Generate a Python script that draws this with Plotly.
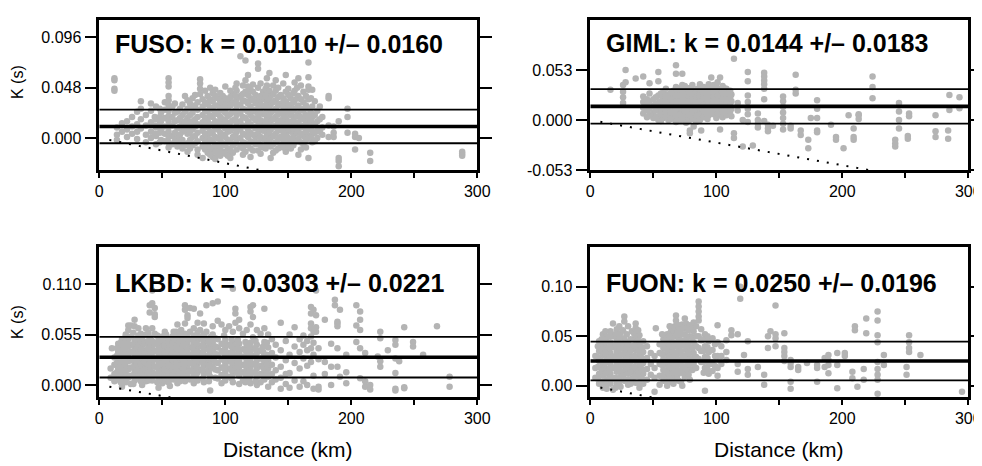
import plotly.graph_objects as go

# ---------------- data ----------------
stations = ["FUSO", "GIML", "LKBD", "FUON"]
k_mean = [0.0110, 0.0144, 0.0303, 0.0250]
k_std = [0.0160, 0.0183, 0.0221, 0.0196]

y_ranges = [[-0.0305, 0.1125], [-0.053, 0.106], [-0.0134, 0.1500], [-0.0117, 0.1398]]
y_tickvals = [[0, 0.048, 0.096], [-0.053, 0, 0.053], [0, 0.055, 0.110], [0, 0.05, 0.10]]
y_ticktext = [["0.000", "0.048", "0.096"], ["-0.053", "0.000", "0.053"],
              ["0.000", "0.055", "0.110"], ["0.00", "0.05", "0.10"]]
x_tickvals = [0, 100, 200, 300]
x_ticktext = ["0", "100", "200", "300"]
x_minorvals = [50, 150, 250]

dotted_dist = [8, 300]
dotted_k = [-0.0019, -0.072]

# (distance km, [kappa values])
fuso_cols = [
    (12, [0.057, 0.055, 0.047, 0.045]), (14, [0.010, 0.003, -0.002]), (18, [0.014, 0.006]),
    (22, [0.016, 0.008, 0.001]), (26, [0.020, 0.011, 0.004]), (30, [0.025, 0.013, 0.006, -0.001]),
    (33, [0.035, 0.028, 0.018, 0.009]), (37, [0.022, 0.012, 0.003, -0.004]),
    (41, [0.033, 0.026, 0.015, 0.006, 0.0]), (45, [0.030, 0.018, 0.010, 0.002, -0.006]),
    (49, [0.024, 0.016, 0.008, -0.002]), (52, [0.034, 0.027, 0.019, 0.011, 0.004, -0.003]),
    (55, [0.057, 0.053, 0.049, 0.040, 0.036, 0.031, 0.026, 0.021, 0.016, 0.011, 0.006, 0.001, -0.004, -0.009]),
    (58, [0.030, 0.020, 0.012, 0.002, -0.006]), (62, [0.025, 0.017, 0.009, 0.000, -0.008]),
    (66, [0.032, 0.022, 0.014, 0.006, -0.002, -0.010]),
    (70, [0.036, 0.028, 0.019, 0.011, 0.004, -0.005, -0.013]),
    (74, [0.038, 0.030, 0.024, 0.016, 0.008, 0.001, -0.007]),
    (78, [0.034, 0.027, 0.020, 0.013, 0.005, -0.003, -0.011, -0.016]),
    (80, [0.056, 0.052, 0.047, 0.042]),
    (82, [0.037, 0.030, 0.022, 0.015, 0.007, 0.0, -0.008, -0.019]),
    (86, [0.040, 0.032, 0.025, 0.017, 0.010, 0.002, -0.006, -0.014]), (88, [0.048]),
    (90, [0.043, 0.035, 0.027, 0.020, 0.012, 0.004, -0.003, -0.011, -0.018]),
    (94, [0.038, 0.031, 0.023, 0.015, 0.008, 0.0, -0.008, -0.015]),
    (98, [0.040, 0.033, 0.026, 0.018, 0.011, 0.003, -0.005, -0.013]),
    (102, [0.036, 0.029, 0.021, 0.014, 0.006, -0.002, -0.010, -0.017]),
    (106, [0.042, 0.034, 0.025, 0.017, 0.009, 0.001, -0.007, -0.014]),
    (109, [0.052, 0.045, 0.037, 0.030, 0.022, 0.014, 0.006, -0.002, -0.011]),
    (112, [0.078, 0.040, 0.032, 0.024, 0.016, 0.008, 0.0, -0.008]),
    (116, [0.074, 0.055, 0.044, 0.035, 0.027, 0.019, 0.011, 0.003, -0.005, -0.013]),
    (120, [0.046, 0.038, 0.030, 0.022, 0.013, 0.005, -0.003, -0.010, -0.018]), (122, [0.051]),
    (124, [0.041, 0.033, 0.025, 0.017, 0.009, 0.001, -0.006]),
    (126, [0.071, 0.066, 0.048, 0.036, 0.028, 0.020, 0.012, 0.004, -0.004, -0.012]),
    (130, [0.044, 0.037, 0.030, 0.023, 0.015, 0.007, -0.001, -0.009]),
    (133, [0.057, 0.050, 0.043, 0.035, 0.027, 0.019, 0.011, 0.003, -0.005]),
    (136, [0.040, 0.032, 0.024, 0.016, 0.008, 0.0, -0.008, -0.019]),
    (140, [0.055, 0.045, 0.036, 0.028, 0.020, 0.012, 0.004, -0.004, -0.012]),
    (144, [0.041, 0.033, 0.025, 0.017, 0.009, 0.001, -0.007]),
    (148, [0.060, 0.044, 0.035, 0.027, 0.019, 0.011, 0.003, -0.005, -0.013]),
    (152, [0.038, 0.030, 0.022, 0.014, 0.006, -0.002, -0.010]),
    (155, [0.053, 0.045, 0.036, 0.028, 0.020, 0.012, 0.004, -0.004]),
    (158, [0.057, 0.040, 0.031, 0.023, 0.015, 0.007, -0.001, -0.016]),
    (162, [0.044, 0.034, 0.026, 0.018, 0.010, 0.002, -0.006]),
    (166, [0.072, 0.058, 0.049, 0.046, 0.037, 0.028, 0.019, 0.010, 0.002, -0.019]),
    (169, [0.046, 0.030, 0.020, 0.012, 0.004, -0.004]), (173, [0.026, 0.016, 0.008, 0.0]),
    (177, [0.020, 0.010, 0.003]), (182, [0.040, 0.038, 0.012, 0.001]), (186, [0.011, 0.005, 0.001]),
    (190, [0.016, -0.019, -0.022, -0.027]), (197, [0.028, 0.020, 0.005]),
    (203, [0.004, 0.001, -0.011]), (206, [0.000]), (215, [-0.014, -0.022]),
    (288, [-0.013, -0.015, -0.017]),
    # in-between points of the dense core
    (44, [0.020, 0.012, 0.004]), (48, [0.028, 0.020, 0.013, 0.005, -0.004]),
    (60, [0.033, 0.024, 0.016, 0.005, -0.003]), (64, [0.028, 0.019, 0.011, 0.003, -0.005]),
    (68, [0.040, 0.025, 0.016, 0.008, -0.007]), (72, [0.033, 0.022, 0.014, 0.006, -0.002, -0.010]),
    (76, [0.041, 0.031, 0.018, 0.011, 0.002, -0.005]),
    (84, [0.045, 0.034, 0.026, 0.019, 0.012, 0.004, -0.003, -0.011]),
    (88, [0.037, 0.029, 0.021, 0.013, 0.006, -0.002, -0.009, -0.016]),
    (92, [0.046, 0.040, 0.031, 0.024, 0.016, 0.009, 0.001, -0.006, -0.013, -0.020]),
    (96, [0.043, 0.035, 0.028, 0.020, 0.013, 0.005, -0.002, -0.010, -0.017]),
    (100, [0.049, 0.038, 0.031, 0.024, 0.016, 0.009, 0.001, -0.007, -0.015]),
    (104, [0.045, 0.039, 0.031, 0.023, 0.015, 0.007, -0.004, -0.012, -0.019]),
    (108, [0.048, 0.040, 0.033, 0.026, 0.018, 0.010, 0.003, -0.005]),
    (114, [0.050, 0.042, 0.036, 0.028, 0.020, 0.012, 0.004, -0.004, -0.010, -0.016]),
    (118, [0.060, 0.049, 0.041, 0.033, 0.025, 0.016, 0.008, 0.001, -0.007]),
    (122, [0.044, 0.036, 0.027, 0.019, 0.011, 0.003, -0.004, -0.012]),
    (128, [0.052, 0.040, 0.032, 0.025, 0.017, 0.009, 0.001, -0.007, -0.015]),
    (132, [0.047, 0.040, 0.031, 0.023, 0.016, 0.008, 0.0, -0.010]),
    (135, [0.062, 0.045, 0.037, 0.029, 0.021, 0.013, 0.005, -0.002]),
    (138, [0.050, 0.042, 0.034, 0.026, 0.018, 0.010, 0.002, -0.006, -0.014]),
    (142, [0.048, 0.039, 0.031, 0.023, 0.015, 0.007, -0.001, -0.010]),
    (146, [0.052, 0.038, 0.030, 0.022, 0.014, 0.006, -0.002, -0.009]),
    (150, [0.047, 0.041, 0.032, 0.024, 0.016, 0.008, 0.0, -0.008]),
    (154, [0.043, 0.034, 0.026, 0.017, 0.009, 0.001, -0.007]),
    (157, [0.048, 0.038, 0.029, 0.021, 0.013, 0.005, -0.003]),
    (160, [0.050, 0.037, 0.028, 0.020, 0.012, 0.004, -0.004, -0.011]),
    (164, [0.040, 0.031, 0.022, 0.014, 0.006, -0.002, -0.009]),
    (168, [0.038, 0.024, 0.016, 0.008, 0.0]), (171, [0.035, 0.022, 0.013, 0.005, -0.003]),
    (175, [0.030, 0.018, 0.006]),
]

giml_cols = [
    (16, [0.032]), (26, [0.037, 0.030, 0.024, 0.018]), (28, [0.053, 0.040]), (36, [0.044]),
    (42, [0.046, 0.025, 0.019, 0.013, 0.007]), (47, [0.039, 0.028, 0.020, 0.012, 0.005]),
    (50, [0.022, 0.015, 0.008, 0.002]), (54, [0.051, 0.041, 0.026, 0.018, 0.011, 0.004, 0.0]),
    (58, [0.030, 0.023, 0.016, 0.009, 0.002]), (62, [0.027, 0.020, 0.013, 0.006, 0.0]),
    (66, [0.031, 0.024, 0.017, 0.010, 0.003]), (68, [0.058, 0.049]),
    (70, [0.033, 0.028, 0.022, 0.015, 0.008, 0.001]),
    (73, [0.049, 0.037, 0.030, 0.024, 0.018, 0.012, 0.005]),
    (76, [0.032, 0.027, 0.021, 0.014, 0.007, -0.003]),
    (79, [0.034, 0.029, 0.023, 0.016, 0.010, 0.003, -0.011, -0.014]),
    (82, [0.031, 0.025, 0.019, 0.012, 0.006, -0.007]),
    (85, [0.033, 0.027, 0.021, 0.015, 0.008, 0.002]),
    (88, [0.035, 0.029, 0.023, 0.017, 0.010, 0.004, -0.011]),
    (91, [0.032, 0.026, 0.020, 0.013, 0.006]), (94, [0.038, 0.030, 0.024, 0.018, 0.011, 0.005]),
    (96, [0.045, 0.033, 0.027, 0.021, 0.014, 0.007]),
    (100, [0.035, 0.029, 0.022, 0.015, 0.009, 0.002]),
    (103, [0.045, 0.031, 0.025, 0.018, 0.012, 0.005, -0.010]),
    (106, [0.034, 0.026, 0.019, 0.012]), (109, [0.030, 0.022, 0.015, 0.008]),
    (112, [0.027, 0.020, 0.012, 0.004]), (114, [0.065, -0.014, -0.019]), (117, [0.018, 0.010]),
    (121, [-0.028, 0.000]), (125, [0.051, 0.041, 0.026, 0.019, 0.012, 0.006, -0.002]),
    (129, [-0.027]), (133, [0.007, 0.0, -0.004, -0.008]),
    (138, [0.050, 0.046, 0.042, 0.038, 0.033, 0.022, -0.001]), (141, [-0.005, -0.009, -0.012]),
    (145, [-0.006]), (153, [0.025, 0.020, 0.014, 0.008, 0.002, -0.004, -0.010]),
    (159, [-0.006, -0.009]), (163, [0.048, 0.032, 0.028]), (167, [-0.011, -0.016]),
    (173, [-0.021, -0.030]), (175, [0.002]), (180, [0.021, 0.012, 0.002, -0.011, -0.013]),
    (191, [-0.005]), (195, [-0.018, -0.021]), (201, [-0.030]), (205, [0.005]),
    (209, [-0.009, -0.018, -0.021]), (213, [0.005, 0.006, 0.001]), (224, [0.046, 0.035, 0.023]),
    (242, [-0.028, -0.025, -0.021]), (245, [0.018, 0.009, 0.0, -0.009]), (252, [-0.017, -0.020]),
    (253, [0.007, 0.004]), (274, [0.005, -0.012, -0.018]), (284, [-0.011, -0.020]),
    (285, [0.0265, 0.0106]), (293, [0.024, 0.0124]),
    # in-between points of the dense core
    (45, [0.022, 0.016, 0.010, 0.003]), (52, [0.024, 0.017, 0.010, 0.003]),
    (56, [0.028, 0.020, 0.013, 0.006, -0.001]), (60, [0.033, 0.025, 0.018, 0.011, 0.004]),
    (64, [0.029, 0.022, 0.015, 0.008, 0.001]), (68, [0.035, 0.026, 0.019, 0.012, 0.005, -0.002]),
    (72, [0.031, 0.026, 0.020, 0.013, 0.006, 0.0]), (75, [0.036, 0.029, 0.023, 0.017, 0.010, 0.003]),
    (78, [0.031, 0.025, 0.019, 0.012, 0.005, -0.001]), (81, [0.037, 0.028, 0.022, 0.014, 0.008, 0.001]),
    (84, [0.030, 0.024, 0.018, 0.011, 0.004, -0.002]),
    (87, [0.038, 0.032, 0.026, 0.020, 0.013, 0.006, 0.0]),
    (90, [0.035, 0.029, 0.023, 0.016, 0.009, 0.003]), (93, [0.033, 0.027, 0.021, 0.015, 0.008, 0.001]),
    (98, [0.037, 0.031, 0.025, 0.019, 0.012, 0.006]), (101, [0.040, 0.033, 0.026, 0.020, 0.013, 0.007]),
    (105, [0.036, 0.029, 0.022, 0.016, 0.009, 0.003]), (108, [0.033, 0.026, 0.019, 0.011, 0.005]),
    (111, [0.031, 0.024, 0.016, 0.009]),
]

lkbd_cols = [
    (9, [0.018, 0.008]), (10, [0.040]), (12, [0.030, 0.022, 0.012, 0.004]),
    (15, [0.045, 0.036, 0.028, 0.018, 0.010]),
    (18, [0.050, 0.041, 0.033, 0.025, 0.016, 0.007, -0.002]),
    (21, [0.055, 0.046, 0.038, 0.029, 0.020, 0.012, 0.003]),
    (23, [0.065, 0.060, 0.050, 0.042, 0.034, 0.026, 0.017, 0.008]),
    (25, [0.065, 0.053, 0.044, 0.036, 0.027, 0.019, 0.010, 0.001]),
    (28, [0.071, 0.064, 0.048, 0.040, 0.031, 0.023, 0.014, 0.005]),
    (31, [0.062, 0.054, 0.045, 0.037, 0.028, 0.020, 0.011]),
    (34, [0.051, 0.043, 0.034, 0.026, 0.017, 0.009, 0.0]),
    (37, [0.062, 0.055, 0.047, 0.038, 0.030, 0.021, 0.013, 0.004]),
    (40, [0.087, 0.079, 0.052, 0.044, 0.035, 0.027, 0.018, 0.010]),
    (42, [0.103, 0.089, 0.062, 0.048, 0.040, 0.031, 0.023, 0.014, 0.005]),
    (44, [0.084, 0.077, 0.074, 0.056, 0.045, 0.037, 0.028, 0.020, 0.011]),
    (47, [0.050, 0.042, 0.033, 0.025, 0.016, 0.007, -0.003]),
    (50, [0.053, 0.045, 0.036, 0.028, 0.019, 0.011, 0.002]),
    (53, [0.055, 0.047, 0.039, 0.030, 0.022, 0.013, 0.004]),
    (56, [0.050, 0.042, 0.034, 0.025, 0.017, 0.008, -0.001]),
    (59, [0.058, 0.049, 0.041, 0.032, 0.024, 0.015, 0.006]),
    (62, [0.066, 0.054, 0.046, 0.037, 0.029, 0.020, 0.011, 0.002]),
    (65, [0.060, 0.051, 0.043, 0.034, 0.026, 0.017, 0.008]),
    (68, [0.087, 0.082, 0.067, 0.056, 0.048, 0.039, 0.031, 0.022, 0.013, 0.004]),
    (70, [0.076, 0.073, 0.053, 0.045, 0.036, 0.028, 0.019, 0.010]),
    (72, [0.084, 0.058, 0.050, 0.041, 0.033, 0.024, 0.015, 0.006]),
    (75, [0.083, 0.062, 0.054, 0.046, 0.037, 0.029, 0.020, 0.011, 0.002]),
    (78, [0.068, 0.057, 0.049, 0.040, 0.032, 0.023, 0.014, 0.005]),
    (80, [0.078, 0.060, 0.052, 0.043, 0.035, 0.026, 0.017]),
    (83, [0.067, 0.055, 0.046, 0.038, 0.029, 0.021, 0.012, 0.003]),
    (85, [0.087, 0.058, 0.049, 0.041, 0.032, 0.024, 0.015]),
    (88, [0.052, 0.043, 0.035, 0.026, 0.018, 0.009, -0.006]),
    (90, [0.089, 0.064, 0.055, 0.046, 0.038, 0.029, 0.020]),
    (94, [0.091, 0.070, 0.050, 0.041, 0.033, 0.024, 0.016, 0.007]),
    (97, [0.066, 0.045, 0.037, 0.028, 0.019, 0.011, 0.002]),
    (100, [0.060, 0.049, 0.040, 0.031, 0.023, 0.014, 0.005]),
    (103, [0.064, 0.044, 0.035, 0.026, 0.018, 0.009]),
    (106, [0.105, 0.058, 0.047, 0.038, 0.030, 0.021, 0.012, 0.003]),
    (108, [0.083, 0.078, 0.068, 0.042, 0.033, 0.025, 0.016]),
    (111, [0.071, 0.062, 0.045, 0.036, 0.027, 0.019, 0.010, 0.001]),
    (114, [0.056, 0.039, 0.031, 0.022, 0.014, 0.005]),
    (117, [0.060, 0.043, 0.034, 0.026, 0.017, 0.008]),
    (120, [0.085, 0.080, 0.066, 0.046, 0.037, 0.029, 0.020, 0.011, 0.002]),
    (122, [0.087, 0.074, 0.052, 0.040, 0.032, 0.023, 0.014]),
    (125, [0.060, 0.044, 0.035, 0.027, 0.018, 0.009, 0.0]),
    (128, [0.056, 0.038, 0.029, 0.021, 0.012, 0.003]),
    (131, [0.083, 0.062, 0.047, 0.033, 0.024, 0.015, 0.006]),
    (134, [0.055, 0.041, 0.027, 0.018, 0.009, -0.002]),
    (137, [0.050, 0.035, 0.022, 0.012, 0.003]), (140, [0.044, 0.030, 0.016, 0.006]),
    (144, [0.068, 0.038, 0.020, 0.008, -0.004]), (148, [0.048, 0.027, 0.012, 0.001]),
    (151, [0.055, 0.033, 0.013, -0.003]), (155, [0.063, 0.042, 0.024, 0.005]),
    (159, [0.050, 0.036, 0.018, -0.002]), (162, [0.054, 0.044, 0.029, 0.004]),
    (165, [0.048, 0.038, 0.021, 0.0]),
    (168, [0.085, 0.078, 0.067, 0.062, 0.053, 0.040, 0.025]),
    (170, [0.082, 0.058, 0.046, 0.033, 0.010, -0.004]), (172, [0.103, 0.076, 0.063, 0.058]),
    (174, [0.040, 0.028, -0.002, -0.005]), (179, [0.071, 0.025, 0.012]), (184, [0.045, 0.020, 0.0]),
    (187, [0.093, 0.087]), (189, [0.069, 0.067, 0.064, 0.040, 0.020]), (191, [0.082, 0.009]),
    (196, [0.033, 0.014, 0.002]), (204, [0.087, 0.065, 0.047]),
    (207, [0.080, 0.071, 0.060, 0.040, 0.0074]), (211, [0.035, 0.004, -0.002]), (215, [0.0, -0.005]),
    (221, [0.031]), (223, [0.058, 0.051, 0.026, 0.020]), (229, [0.038]),
    (235, [0.049, 0.044, 0.029, 0.013, -0.004, -0.006]), (238, [0.026]),
    (242, [0.063, -0.0025, -0.0035]), (249, [0.047, 0.042]), (257, [0.033]), (268, [0.064]),
    (278, [0.009, -0.002]),
    # in-between points of the dense core
    (14, [0.040, 0.032, 0.024, 0.014, 0.006]), (17, [0.046, 0.037, 0.029, 0.021, 0.012, 0.003]),
    (20, [0.051, 0.042, 0.034, 0.025, 0.016, 0.008]),
    (27, [0.057, 0.044, 0.036, 0.027, 0.019, 0.010, 0.001]),
    (30, [0.050, 0.041, 0.033, 0.024, 0.016, 0.007]),
    (33, [0.056, 0.047, 0.039, 0.030, 0.022, 0.013, 0.004]),
    (36, [0.045, 0.034, 0.025, 0.017, 0.008]),
    (39, [0.057, 0.048, 0.040, 0.031, 0.022, 0.014, 0.005]),
    (46, [0.054, 0.046, 0.037, 0.029, 0.020, 0.012, 0.003]),
    (49, [0.049, 0.040, 0.032, 0.023, 0.015, 0.006]),
    (52, [0.058, 0.051, 0.043, 0.034, 0.026, 0.017, 0.008]),
    (55, [0.046, 0.038, 0.029, 0.021, 0.012, 0.003]),
    (58, [0.053, 0.045, 0.036, 0.028, 0.019, 0.010]),
    (61, [0.058, 0.050, 0.041, 0.033, 0.024, 0.016, 0.007]),
    (64, [0.055, 0.047, 0.039, 0.030, 0.021, 0.013, 0.004]),
    (67, [0.052, 0.044, 0.035, 0.026, 0.018, 0.009]),
    (74, [0.050, 0.041, 0.032, 0.024, 0.016, 0.007]),
    (77, [0.053, 0.045, 0.036, 0.027, 0.019, 0.010]),
    (82, [0.050, 0.042, 0.033, 0.025, 0.016, 0.007]),
    (87, [0.047, 0.039, 0.030, 0.021, 0.013, 0.004]),
    (92, [0.051, 0.042, 0.034, 0.025, 0.017, 0.008]),
    (99, [0.054, 0.044, 0.035, 0.027, 0.018, 0.009]),
    (105, [0.050, 0.042, 0.034, 0.025, 0.016, 0.007]),
    (110, [0.049, 0.040, 0.031, 0.023, 0.014]),
    (116, [0.047, 0.038, 0.030, 0.021, 0.012, 0.003]),
    (119, [0.041, 0.033, 0.024, 0.015, 0.006]),
    (124, [0.048, 0.039, 0.031, 0.022, 0.013, 0.004]),
    (130, [0.042, 0.036, 0.028, 0.019, 0.010]), (133, [0.046, 0.033, 0.022, 0.013]),
]

fuon_cols = [
    (4, [0.030, 0.018, 0.008]), (7, [0.045, 0.035, 0.025, 0.012, 0.002]),
    (10, [0.052, 0.041, 0.031, 0.020, 0.010, -0.002]),
    (13, [0.049, 0.038, 0.028, 0.017, 0.006, -0.003]),
    (16, [0.055, 0.044, 0.033, 0.022, 0.012, 0.002]),
    (18, [0.063, 0.050, 0.039, 0.029, 0.018, 0.007, -0.004]),
    (21, [0.057, 0.046, 0.035, 0.024, 0.014, 0.003]),
    (24, [0.053, 0.042, 0.031, 0.020, 0.009, -0.001]),
    (27, [0.070, 0.065, 0.048, 0.037, 0.026, 0.015, 0.005]),
    (30, [0.060, 0.044, 0.033, 0.022, 0.012, 0.001]),
    (33, [0.055, 0.040, 0.029, 0.018, 0.007]),
    (36, [0.063, 0.058, 0.047, 0.036, 0.025, 0.014, 0.003]),
    (39, [0.051, 0.041, 0.030, 0.019, 0.009, -0.002]),
    (42, [0.045, 0.034, 0.023, 0.012, 0.002]), (45, [0.040, 0.028, 0.017, 0.006]),
    (48, [0.033, 0.022, 0.011]), (51, [0.030, 0.018, 0.008, -0.006]), (52, [0.058]),
    (55, [0.042, 0.033, 0.022, 0.010, 0.001]), (58, [0.047, 0.038, 0.027, 0.016, 0.005]),
    (61, [0.052, 0.043, 0.032, 0.021, 0.010, 0.0]),
    (64, [0.055, 0.046, 0.036, 0.025, 0.014, 0.004]),
    (67, [0.060, 0.050, 0.040, 0.029, 0.018, 0.008]), (68, [0.071, 0.066]),
    (70, [0.058, 0.048, 0.037, 0.026, 0.015, 0.005]),
    (73, [0.062, 0.052, 0.041, 0.030, 0.019, 0.0]),
    (76, [0.063, 0.058, 0.047, 0.036, 0.025, 0.014]),
    (79, [0.061, 0.050, 0.039, 0.028, 0.017, 0.006]),
    (82, [0.064, 0.055, 0.044, 0.033, 0.022]),
    (86, [0.085, 0.080, 0.075, 0.070, 0.066, 0.050, 0.038, 0.027]),
    (88, [0.057, 0.046, 0.035, 0.024]), (91, [0.052, 0.040, 0.029, 0.018, -0.005]),
    (94, [0.045, 0.034, 0.022, 0.012]), (97, [0.048, 0.036, 0.022, 0.015]),
    (101, [0.061, 0.044, 0.030, 0.018, 0.010]), (104, [0.040, 0.030, 0.022]),
    (108, [0.046, 0.034, 0.026]), (112, [0.056, 0.051]), (117, [0.052, 0.022, 0.014]),
    (119, [0.100, 0.088]), (122, [0.031]), (125, [0.045, 0.017, 0.011]), (133, [0.019]),
    (138, [0.011, 0.001]), (141, [0.050, 0.038]), (143, [0.055]),
    (147, [0.081, 0.052, 0.048, 0.040]), (154, [0.053, 0.038, 0.034, 0.030, 0.025]),
    (159, [0.026, 0.023, 0.019, 0.004, -0.003]), (165, [0.019, 0.016]), (172, [0.023]),
    (180, [0.021, 0.018, 0.004]), (186, [0.028, 0.019]), (189, [0.031, 0.026, 0.021, 0.0125]),
    (196, [0.033, 0.021, -0.0026]), (202, [0.033, 0.030]), (208, [0.014, 0.0075]),
    (210, [0.060, 0.056]), (212, [-0.001]), (217, [0.017, 0.006]), (219, [0.068, 0.053]),
    (228, [0.075, 0.066, 0.051, 0.044, 0.024, 0.017, 0.011, 0.006, -0.008]),
    (233, [0.031, 0.021]), (251, [0.019, 0.011]), (253, [0.051, 0.044, 0.038, 0.034]),
    (262, [0.031]), (295, [-0.006]),
    # in-between points of the dense core
    (6, [0.040, 0.029, 0.019, 0.007]), (9, [0.047, 0.036, 0.025, 0.015, 0.004]),
    (12, [0.055, 0.044, 0.033, 0.023, 0.012, 0.001]), (15, [0.050, 0.039, 0.028, 0.017, 0.007]),
    (20, [0.052, 0.041, 0.030, 0.019, 0.008, -0.002]),
    (23, [0.060, 0.048, 0.037, 0.026, 0.015, 0.004]), (26, [0.056, 0.043, 0.032, 0.021, 0.010]),
    (29, [0.052, 0.039, 0.028, 0.017, 0.006]), (32, [0.047, 0.035, 0.024, 0.013, 0.002]),
    (35, [0.052, 0.041, 0.030, 0.019, 0.009]), (38, [0.056, 0.046, 0.035, 0.024, 0.014, 0.003]),
    (41, [0.039, 0.028, 0.017, 0.007]), (57, [0.052, 0.042, 0.032, 0.021, 0.010]),
    (60, [0.047, 0.037, 0.026, 0.015, 0.005]), (63, [0.060, 0.050, 0.041, 0.030, 0.019, 0.009]),
    (66, [0.055, 0.044, 0.034, 0.023, 0.013, 0.002]),
    (69, [0.062, 0.053, 0.043, 0.032, 0.021, 0.010]),
    (72, [0.057, 0.046, 0.035, 0.024, 0.013, 0.004]),
    (75, [0.068, 0.052, 0.041, 0.030, 0.019, 0.009]), (78, [0.056, 0.044, 0.033, 0.022, 0.011]),
    (81, [0.059, 0.049, 0.038, 0.027, 0.016]), (84, [0.060, 0.050, 0.040, 0.029, 0.018]),
    (90, [0.047, 0.035, 0.024, 0.013]), (93, [0.050, 0.039, 0.028, 0.017]),
    (99, [0.042, 0.030, 0.020]),
]

panel_cols = [fuso_cols, giml_cols, lkbd_cols, fuon_cols]

# ---------------- layout geometry ----------------
# the page body has an 8 px margin: the figure starts at (8, 8) of the window
OFF = 8
W, H = 982 - OFF, 466 - OFF


def px2x(px):
    return (px - OFF) / W


def py2y(py):
    return 1 - (py - OFF) / H


FONT = "Liberation Sans, Arial, Helvetica, sans-serif"
x_dom = [[px2x(99.3), px2x(477.3)], [px2x(590.3), px2x(968.3)]]
y_dom = [[py2y(170), py2y(20)], [py2y(397.3), py2y(247.4)]]
panel_pos = [(0, 0), (1, 0), (0, 1), (1, 1)]  # (col, row)
label_xy = [(113, 44), (604.3, 42.5), (113.3, 283), (604.3, 283)]

fig = go.Figure()
layout = dict(
    width=W, height=H, margin=dict(l=0, r=0, t=0, b=0, autoexpand=False),
    paper_bgcolor="white", plot_bgcolor="white", showlegend=False,
    font=dict(family=FONT, color="black"),
)
annotations = []

for i in range(4):
    n = i + 1
    xa = "x" if n == 1 else f"x{n}"
    ya = "y" if n == 1 else f"y{n}"
    col, row = panel_pos[i]

    dist, kap = [], []
    for d, ks in panel_cols[i]:
        for k in ks:
            dist.append(d)
            kap.append(k)

    fig.add_trace(go.Scatter(
        x=dist, y=kap, mode="markers", xaxis=xa, yaxis=ya,
        marker=dict(size=6.5, color="#b4b4b4", line=dict(width=0)),
        hoverinfo="skip"))

    # dotted reference line
    fig.add_trace(go.Scatter(
        x=dotted_dist, y=dotted_k, mode="lines", xaxis=xa, yaxis=ya,
        line=dict(color="black", width=2, dash="2px,8px"), hoverinfo="skip"))

    # mean and +/- std lines
    for val, w in [(k_mean[i] + k_std[i], 1.8), (k_mean[i] - k_std[i], 1.8), (k_mean[i], 3.6)]:
        fig.add_trace(go.Scatter(
            x=[0, 300], y=[val, val], mode="lines", xaxis=xa, yaxis=ya,
            line=dict(color="black", width=w), hoverinfo="skip"))

    xkey = "xaxis" if n == 1 else f"xaxis{n}"
    ykey = "yaxis" if n == 1 else f"yaxis{n}"
    layout[xkey] = dict(
        domain=x_dom[col], anchor=ya, range=[0, 300], showgrid=False, zeroline=False,
        automargin=False, ticklabeloverflow="allow",
        showline=True, linewidth=2.5, linecolor="black", mirror=True,
        ticks="outside", ticklen=5, tickwidth=1.5, tickcolor="black",
        tickvals=x_tickvals, ticktext=x_ticktext,
        tickfont=dict(family=FONT, size=16, color="black"),
        minor=dict(tickvals=x_minorvals, ticks="outside", ticklen=5, tickwidth=1.5, tickcolor="black"),
    )
    layout[ykey] = dict(
        domain=y_dom[row], anchor=xa, range=y_ranges[i], showgrid=False, zeroline=False,
        automargin=False, ticklabeloverflow="allow",
        showline=True, linewidth=2.5, linecolor="black", mirror="ticks",
        ticks="outside", ticklen=12, tickwidth=1.5, tickcolor="black",
        tickvals=y_tickvals[i], ticktext=y_ticktext[i],
        tickfont=dict(family=FONT, size=16, color="black"),
    )
    # top axis with longer ticks
    tkey = f"xaxis{n + 4}"
    layout[tkey] = dict(
        overlaying=xa, side="top", anchor=ya, range=[0, 300], showgrid=False, zeroline=False,
        automargin=False,
        showline=False, ticks="outside", ticklen=13, tickwidth=1.5, tickcolor="black",
        tickvals=x_tickvals, showticklabels=False,
        minor=dict(tickvals=x_minorvals, ticks="outside", ticklen=7, tickwidth=1.5, tickcolor="black"),
    )

    lx, ly = label_xy[i]
    annotations.append(dict(
        xref="paper", yref="paper", x=px2x(lx), y=py2y(ly), xanchor="left", yanchor="middle",
        text=f"<b>{stations[i]}: k = {k_mean[i]:.4f} +/\u2013 {k_std[i]:.4f}</b>",
        showarrow=False, font=dict(family=FONT, size=25, color="black")))

# axis titles
for yc in [82, 322]:
    annotations.append(dict(
        xref="paper", yref="paper", x=px2x(17), y=py2y(yc), xanchor="center", yanchor="middle",
        text="K (s)", textangle=-90, showarrow=False,
        font=dict(family=FONT, size=16, color="black")))
for xc in [288, 779]:
    annotations.append(dict(
        xref="paper", yref="paper", x=px2x(xc), y=py2y(449), xanchor="center", yanchor="middle",
        text="Distance (km)", showarrow=False,
        font=dict(family=FONT, size=21, color="black")))

layout["annotations"] = annotations
fig.update_layout(**layout)
fig.write_html("out.html")
